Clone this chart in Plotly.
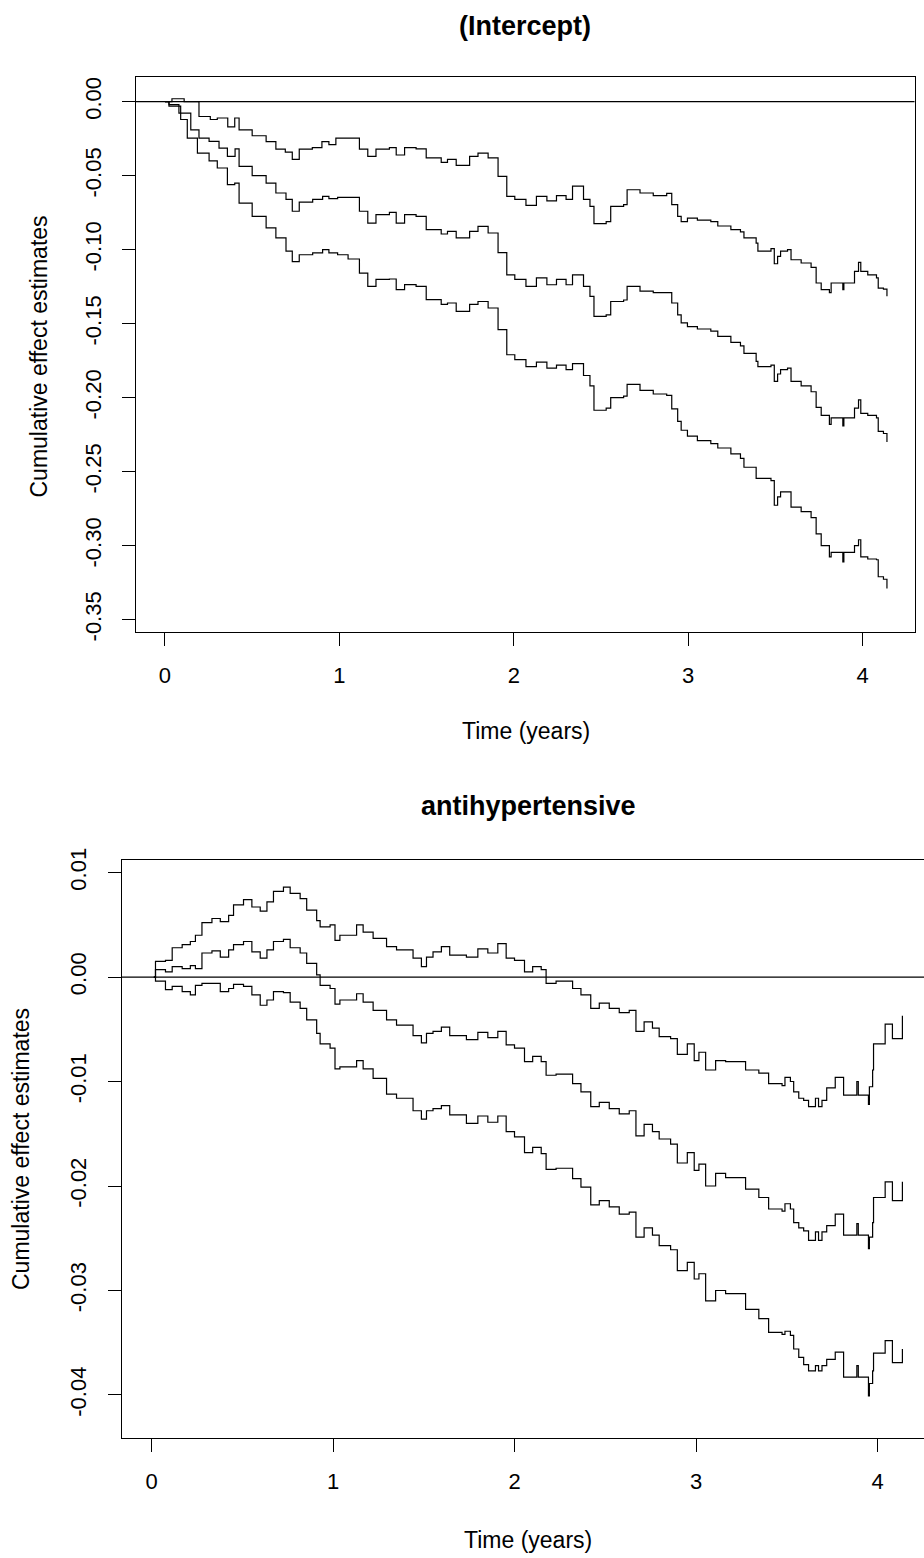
import plotly.graph_objects as go

# ---------------- data: (Intercept) panel ----------------
t_int_upper = [0.00, 0.04, 0.11, 0.195, 0.26, 0.30, 0.36, 0.40, 0.425, 0.50, 0.58, 0.636, 0.69, 0.73, 0.77,
               0.845, 0.90, 0.94, 0.98, 1.115, 1.163, 1.21, 1.287, 1.326, 1.374, 1.44, 1.498, 1.584, 1.62,
               1.67, 1.747, 1.795, 1.853, 1.91, 1.96, 2.006, 2.07, 2.13, 2.19, 2.245, 2.30, 2.337, 2.40,
               2.437, 2.46, 2.53, 2.556, 2.63, 2.65, 2.724, 2.80, 2.877, 2.906, 2.94, 2.96, 2.996, 3.053,
               3.13, 3.17, 3.245, 3.30, 3.32, 3.39, 3.40, 3.475, 3.494, 3.513, 3.53, 3.57, 3.59, 3.648,
               3.705, 3.734, 3.763, 3.81, 3.82, 3.887, 3.893, 3.954, 3.977, 3.99, 4.03, 4.08, 4.09, 4.12, 4.14]
v_int_upper = [0.000, 0.002, 0.000, -0.010, -0.012, -0.011, -0.017, -0.011, -0.019, -0.023, -0.027, -0.032,
               -0.034, -0.039, -0.032, -0.031, -0.027, -0.029, -0.0246, -0.032, -0.037, -0.032, -0.031,
               -0.036, -0.031, -0.0318, -0.038, -0.041, -0.039, -0.043, -0.037, -0.0347, -0.038, -0.0505,
               -0.064, -0.066, -0.070, -0.064, -0.067, -0.0635, -0.066, -0.057, -0.066, -0.0707, -0.0824,
               -0.081, -0.0707, -0.0696, -0.0595, -0.0617, -0.0635, -0.062, -0.0696, -0.0775, -0.081,
               -0.0786, -0.080, -0.081, -0.084, -0.0865, -0.088, -0.092, -0.0955, -0.101, -0.0993, -0.1095,
               -0.1045, -0.101, -0.100, -0.1068, -0.109, -0.112, -0.1225, -0.127, -0.129, -0.1225, -0.127,
               -0.1225, -0.1146, -0.1086, -0.1146, -0.117, -0.119, -0.126, -0.1266, -0.1315]

t_int_est = [0.00, 0.023, 0.08, 0.148, 0.195, 0.253, 0.31, 0.358, 0.402, 0.425, 0.50, 0.58, 0.636, 0.694,
             0.73, 0.77, 0.847, 0.904, 0.94, 0.99, 1.115, 1.163, 1.21, 1.287, 1.326, 1.374, 1.44, 1.498,
             1.584, 1.62, 1.67, 1.747, 1.795, 1.853, 1.91, 1.96, 2.006, 2.07, 2.13, 2.19, 2.245, 2.30,
             2.337, 2.40, 2.437, 2.46, 2.53, 2.556, 2.63, 2.65, 2.724, 2.80, 2.906, 2.94, 2.96, 2.996,
             3.053, 3.13, 3.17, 3.245, 3.30, 3.32, 3.39, 3.40, 3.475, 3.494, 3.513, 3.53, 3.57, 3.59,
             3.648, 3.705, 3.734, 3.763, 3.81, 3.82, 3.887, 3.893, 3.954, 3.977, 3.99, 4.03, 4.08, 4.09,
             4.12, 4.14]
v_int_est = [0.000, -0.002, -0.0077, -0.019, -0.0246, -0.0268, -0.0313, -0.037, -0.0318, -0.0437, -0.050,
             -0.055, -0.0617, -0.066, -0.074, -0.0678, -0.066, -0.064, -0.0655, -0.0646, -0.074, -0.082,
             -0.0763, -0.0748, -0.082, -0.0763, -0.0775, -0.0865, -0.0894, -0.0876, -0.092, -0.0876,
             -0.0842, -0.0887, -0.102, -0.117, -0.120, -0.1248, -0.119, -0.1237, -0.120, -0.1237, -0.117,
             -0.1248, -0.1315, -0.145, -0.144, -0.135, -0.134, -0.1248, -0.128, -0.129, -0.136, -0.144,
             -0.1495, -0.152, -0.1536, -0.155, -0.1586, -0.1626, -0.165, -0.170, -0.1755, -0.179, -0.178,
             -0.189, -0.184, -0.181, -0.180, -0.189, -0.192, -0.196, -0.2065, -0.212, -0.218, -0.2136,
             -0.219, -0.2136, -0.207, -0.2015, -0.2106, -0.212, -0.2136, -0.2227, -0.2242, -0.230]

t_int_lower = [0.00, 0.023, 0.09, 0.128, 0.186, 0.253, 0.30, 0.358, 0.40, 0.425, 0.50, 0.58, 0.636, 0.694,
               0.73, 0.77, 0.847, 0.904, 0.94, 0.99, 1.05, 1.115, 1.163, 1.21, 1.287, 1.326, 1.374, 1.44,
               1.498, 1.584, 1.62, 1.67, 1.747, 1.795, 1.853, 1.91, 1.96, 2.006, 2.07, 2.13, 2.19, 2.245,
               2.30, 2.337, 2.40, 2.437, 2.46, 2.53, 2.556, 2.63, 2.65, 2.724, 2.80, 2.877, 2.906, 2.94,
               2.96, 2.996, 3.053, 3.13, 3.17, 3.245, 3.30, 3.32, 3.39, 3.475, 3.494, 3.513, 3.53, 3.59,
               3.648, 3.705, 3.734, 3.763, 3.81, 3.82, 3.887, 3.893, 3.954, 3.977, 3.99, 4.03, 4.08, 4.09,
               4.12, 4.14]
v_int_lower = [0.000, -0.003, -0.012, -0.0246, -0.0347, -0.040, -0.0448, -0.056, -0.055, -0.0685, -0.0775,
               -0.0853, -0.092, -0.101, -0.108, -0.1034, -0.1022, -0.100, -0.1022, -0.1034, -0.1063,
               -0.1158, -0.1248, -0.120, -0.1198, -0.127, -0.1236, -0.1248, -0.1338, -0.137, -0.136,
               -0.1417, -0.137, -0.135, -0.1394, -0.154, -0.171, -0.1743, -0.179, -0.176, -0.180, -0.178,
               -0.181, -0.177, -0.185, -0.192, -0.2085, -0.207, -0.200, -0.199, -0.191, -0.195, -0.1975,
               -0.1985, -0.2075, -0.216, -0.222, -0.226, -0.229, -0.231, -0.234, -0.238, -0.241, -0.247,
               -0.2545, -0.256, -0.2727, -0.267, -0.2636, -0.274, -0.277, -0.281, -0.292, -0.300, -0.3076,
               -0.3045, -0.311, -0.3045, -0.300, -0.296, -0.3076, -0.309, -0.3095, -0.321, -0.3227, -0.329]

# ---------------- data: antihypertensive panel ----------------
t_anti = [0.013, 0.022, 0.077, 0.114, 0.169, 0.214, 0.242, 0.278, 0.333, 0.379, 0.425, 0.452, 0.507, 0.553,
          0.599, 0.636, 0.672, 0.727, 0.764, 0.819, 0.855, 0.91, 0.929, 0.984, 1.011, 1.038, 1.13, 1.166,
          1.221, 1.295, 1.35, 1.441, 1.487, 1.515, 1.551, 1.597, 1.643, 1.735, 1.798, 1.853, 1.908, 1.954,
          2.0, 2.055, 2.10, 2.147, 2.174, 2.229, 2.32, 2.366, 2.42, 2.467, 2.522, 2.577, 2.632, 2.669,
          2.714, 2.76, 2.797, 2.86, 2.897, 2.952, 2.99, 3.016, 3.053, 3.108, 3.163, 3.273, 3.346, 3.40,
          3.474, 3.49, 3.52, 3.538, 3.566, 3.593, 3.62, 3.658, 3.675, 3.694, 3.72, 3.767, 3.813, 3.886,
          3.894, 3.95, 3.955, 3.973, 3.978, 4.042, 4.082, 4.137]
v_anti_upper = [0.0000, 0.0015, 0.0016, 0.0028, 0.0031, 0.0034, 0.0040, 0.0052, 0.0056, 0.0053, 0.0059,
                0.0069, 0.0074, 0.0067, 0.0063, 0.0072, 0.0082, 0.0086, 0.0080, 0.0075, 0.0064, 0.0054,
                0.0048, 0.0050, 0.0035, 0.0040, 0.0050, 0.0043, 0.0037, 0.0029, 0.0026, 0.0018, 0.0010,
                0.0019, 0.0024, 0.0029, 0.0021, 0.0019, 0.0027, 0.0023, 0.0032, 0.0018, 0.0016, 0.0005,
                0.0010, 0.0007, -0.0006, -0.0004, -0.0011, -0.0017, -0.0030, -0.0025, -0.0030, -0.0034,
                -0.0032, -0.0052, -0.0043, -0.0049, -0.0057, -0.0059, -0.0074, -0.0064, -0.0080, -0.0072,
                -0.0089, -0.0080, -0.0081, -0.0089, -0.0092, -0.0102, -0.0104, -0.0096, -0.0100, -0.0110,
                -0.0116, -0.0118, -0.0124, -0.0116, -0.0124, -0.0118, -0.0106, -0.0096, -0.0113, -0.0100,
                -0.0113, -0.0122, -0.0105, -0.0089, -0.0064, -0.0045, -0.0059, -0.0037]
v_anti_est = [0.0000, 0.0007, 0.0005, 0.0010, 0.0008, 0.0011, 0.0008, 0.0023, 0.0025, 0.0019, 0.0026,
              0.0031, 0.0034, 0.0024, 0.0018, 0.0026, 0.0034, 0.0036, 0.0028, 0.0023, 0.0013, 0.0002,
              -0.0008, -0.0011, -0.0026, -0.0022, -0.0016, -0.0024, -0.0032, -0.0041, -0.0046, -0.0056,
              -0.0063, -0.0054, -0.0052, -0.0048, -0.0056, -0.0060, -0.0053, -0.0058, -0.0052, -0.0065,
              -0.0068, -0.0081, -0.0076, -0.0081, -0.0094, -0.0093, -0.0102, -0.0110, -0.0124, -0.0120,
              -0.0126, -0.0131, -0.0128, -0.0152, -0.0141, -0.0148, -0.0155, -0.0160, -0.0178, -0.0168,
              -0.0185, -0.0179, -0.0200, -0.0188, -0.0192, -0.0203, -0.0211, -0.0222, -0.0224, -0.0217,
              -0.0222, -0.0235, -0.0240, -0.0243, -0.0252, -0.0244, -0.0252, -0.0244, -0.0238, -0.0227,
              -0.0247, -0.0236, -0.0247, -0.0260, -0.0249, -0.0235, -0.0211, -0.0196, -0.0214, -0.0196]
v_anti_lower = [0.0000, -0.0004, -0.0012, -0.0009, -0.0014, -0.0017, -0.0008, -0.0006, -0.0006, -0.0014,
                -0.0011, -0.0007, -0.0009, -0.0017, -0.0027, -0.0022, -0.0014, -0.0015, -0.0024, -0.0030,
                -0.0041, -0.0054, -0.0064, -0.0068, -0.0088, -0.0086, -0.0080, -0.0088, -0.0097, -0.0112,
                -0.0116, -0.0128, -0.0136, -0.0128, -0.0126, -0.0123, -0.0132, -0.0140, -0.0133, -0.0139,
                -0.0133, -0.0148, -0.0153, -0.0168, -0.0163, -0.0169, -0.0184, -0.0183, -0.0193, -0.0201,
                -0.0218, -0.0214, -0.0220, -0.0227, -0.0225, -0.0249, -0.0240, -0.0247, -0.0257, -0.0261,
                -0.0281, -0.0273, -0.0289, -0.0284, -0.0310, -0.0300, -0.0303, -0.0318, -0.0327, -0.0340,
                -0.0342, -0.0339, -0.0343, -0.0356, -0.0364, -0.0371, -0.0377, -0.0372, -0.0377, -0.0372,
                -0.0366, -0.0359, -0.0383, -0.0372, -0.0383, -0.0401, -0.0389, -0.0377, -0.0360, -0.0348,
                -0.0369, -0.0356]

# ---------------- labels / ticks ----------------
title_top = "(Intercept)"
title_bottom = "antihypertensive"
x_title = "Time (years)"
y_title = "Cumulative effect estimates"
x_ticks = [0, 1, 2, 3, 4]
x_ticktext = ["0", "1", "2", "3", "4"]
y_ticks_top = [0.0, -0.05, -0.10, -0.15, -0.20, -0.25, -0.30, -0.35]
y_ticktext_top = ["0.00", "-0.05", "-0.10", "-0.15", "-0.20", "-0.25", "-0.30", "-0.35"]
y_ticks_bot = [0.01, 0.0, -0.01, -0.02, -0.03, -0.04]
y_ticktext_bot = ["0.01", "0.00", "-0.01", "-0.02", "-0.03", "-0.04"]

W, H = 924, 1558
FONT = "Liberation Sans, Arial, Helvetica, sans-serif"
LW = 1.2

fig = go.Figure()
for tt, vv in [(t_int_upper, v_int_upper), (t_int_est, v_int_est), (t_int_lower, v_int_lower)]:
    fig.add_trace(go.Scatter(x=tt, y=vv, mode="lines", line=dict(color="black", width=LW, shape="hv"),
                             xaxis="x", yaxis="y", showlegend=False, hoverinfo="skip"))
for vv in [v_anti_upper, v_anti_est, v_anti_lower]:
    fig.add_trace(go.Scatter(x=t_anti, y=vv, mode="lines", line=dict(color="black", width=LW, shape="hv"),
                             xaxis="x2", yaxis="y2", showlegend=False, hoverinfo="skip"))

def px(x):
    return x / W

def py(y):
    return 1 - y / H

axis_common = dict(showgrid=False, zeroline=False, showline=True, linecolor="black", linewidth=1,
                   ticks="outside", ticklen=13, tickwidth=1, tickcolor="black", automargin=False,
                   tickfont=dict(family=FONT, size=22, color="black"))

fig.update_layout(
    template="none",
    width=W, height=H, margin=dict(l=0, r=0, t=0, b=0, autoexpand=False),
    paper_bgcolor="white", plot_bgcolor="white",
    font=dict(family=FONT, color="black"),
    xaxis=dict(domain=[px(135.5), px(914.5)], range=[-0.169, 4.298], anchor="y",
               tickvals=x_ticks, ticktext=x_ticktext, mirror=True, ticklabelstandoff=11, **axis_common),
    yaxis=dict(domain=[py(631.5), py(77.3)], range=[-0.358, 0.0165], anchor="x",
               tickvals=y_ticks_top, ticktext=y_ticktext_top, tickangle=-90, mirror=True,
               ticklabelstandoff=12, **axis_common),
    xaxis2=dict(domain=[px(122), 1.0], range=[-0.1625, 4.256], anchor="y2",
                tickvals=x_ticks, ticktext=x_ticktext, mirror=True, ticklabelstandoff=11, **axis_common),
    yaxis2=dict(domain=[py(1437.5), py(860)], range=[-0.04407, 0.0112], anchor="x2",
                tickvals=y_ticks_bot, ticktext=y_ticktext_bot, tickangle=-90, mirror=False,
                ticklabelstandoff=13, **axis_common),
)

# horizontal reference lines at zero
fig.add_shape(type="line", xref="x domain", yref="y", x0=0, x1=1, y0=0, y1=0,
              line=dict(color="black", width=1.2))
fig.add_shape(type="line", xref="x2 domain", yref="y2", x0=0, x1=1, y0=0, y1=0,
              line=dict(color="black", width=1.2))

ann = []
ann.append(dict(text="<b>" + title_top + "</b>", x=px(525), y=py(26), xref="paper", yref="paper",
                showarrow=False, xanchor="center", yanchor="middle", font=dict(family=FONT, size=27)))
ann.append(dict(text="<b>" + title_bottom + "</b>", x=px(528.5), y=py(806), xref="paper", yref="paper",
                showarrow=False, xanchor="center", yanchor="middle", font=dict(family=FONT, size=27)))
ann.append(dict(text=x_title, x=px(526), y=py(731), xref="paper", yref="paper", showarrow=False,
                xanchor="center", yanchor="middle", font=dict(family=FONT, size=23)))
ann.append(dict(text=x_title, x=px(528), y=py(1540), xref="paper", yref="paper", showarrow=False,
                xanchor="center", yanchor="middle", font=dict(family=FONT, size=23)))
ann.append(dict(text=y_title, x=px(38.5), y=py(357), xref="paper", yref="paper", showarrow=False,
                textangle=-90, xanchor="center", yanchor="middle", font=dict(family=FONT, size=23)))
ann.append(dict(text=y_title, x=px(21), y=py(1149), xref="paper", yref="paper", showarrow=False,
                textangle=-90, xanchor="center", yanchor="middle", font=dict(family=FONT, size=23)))
fig.update_layout(annotations=ann)

fig.write_html("out.html", config={"displayModeBar": False},
               post_script="document.body.style.margin='0px';document.body.style.overflow='hidden';")
